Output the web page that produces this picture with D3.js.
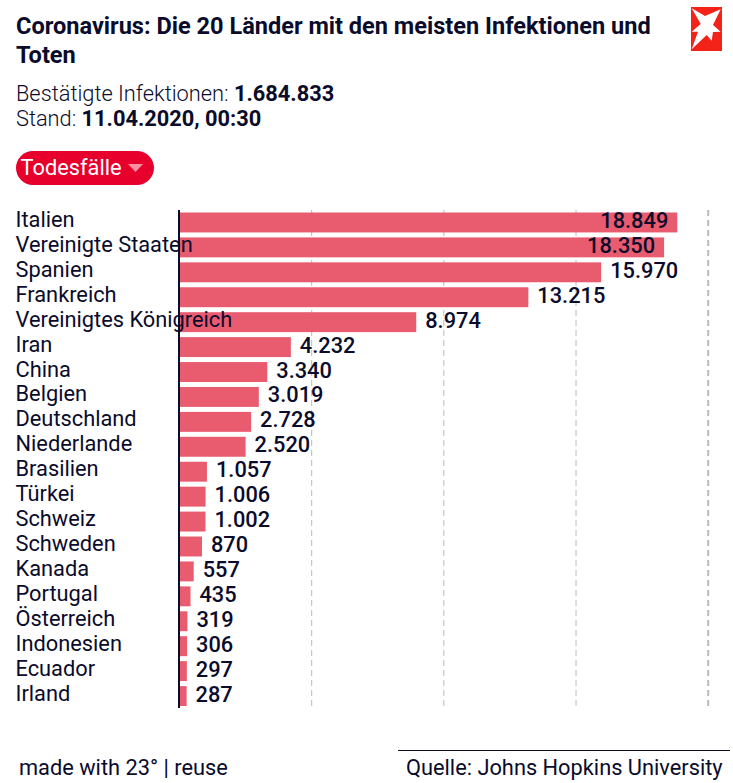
<!DOCTYPE html>
<html>
<head>
<meta charset="utf-8">
<script src="https://cdn.jsdelivr.net/npm/d3@7"></script>
<style>
html, body { margin: 0; padding: 0; background: #fff; }
svg { display: block; font-family: Roboto, sans-serif; }
text { fill: #0b0b2b; }
</style>
</head>
<body>
<div id="chart"></div>
<script>
const countries = ['Italien', 'Vereinigte Staaten', 'Spanien', 'Frankreich', 'Vereinigtes Königreich', 'Iran', 'China', 'Belgien', 'Deutschland', 'Niederlande', 'Brasilien', 'Türkei', 'Schweiz', 'Schweden', 'Kanada', 'Portugal', 'Österreich', 'Indonesien', 'Ecuador', 'Irland']
const deaths = [18849, 18350, 15970, 13215, 8974, 4232, 3340, 3019, 2728, 2520, 1057, 1006, 1002, 870, 557, 435, 319, 306, 297, 287]
const gridTicks = [5000, 10000, 15000, 20000]

const svg = d3.select('#chart').append('svg').attr('width', 733).attr('height', 783)

const x = d3.scaleLinear().domain([0, 20000]).range([179, 707.7])
const y = d3.scaleBand().domain(countries).range([210, 708.5]).paddingInner(0.2).paddingOuter(0.1)
const fmt = d3.formatLocale({decimal: ',', thousands: '.', grouping: [3], currency: ['', '€']}).format(',d')

// header
svg.append('text').attr('x', 16).attr('y', 34).style('font-size', '23.55px').style('font-weight', 700).text('Coronavirus: Die 20 Länder mit den meisten Infektionen und')
svg.append('text').attr('x', 16).attr('y', 63).style('font-size', '23.55px').style('font-weight', 700).text('Toten')

const sub1 = svg.append('text').attr('x', 16).attr('y', 101).style('font-size', '21.8px').style('font-weight', 300).text('Bestätigte Infektionen: ')
sub1.append('tspan').style('font-weight', 700).text('1.684.833')
const sub2 = svg.append('text').attr('x', 16).attr('y', 126).style('font-size', '21.8px').style('font-weight', 300).text('Stand: ')
sub2.append('tspan').style('font-weight', 700).text('11.04.2020, 00:30')

// logo
svg.append('rect').attr('x', 691).attr('y', 7).attr('width', 31).attr('height', 44).attr('fill', '#f4231a')
svg.append('path').attr('fill', '#fff')
	.attr('d', 'M691.7,8.3 L705,16 L720.7,9.3 L713,25 L720.7,31.7 L713,32 L711.7,40.7 L706.7,35 L691.7,49.3 L698,31.7 L691.7,31.7 L700.7,24 Z')

// dropdown
svg.append('rect').attr('x', 16).attr('y', 151).attr('width', 138).attr('height', 34).attr('rx', 17).attr('fill', '#e8002d')
svg.append('text').attr('x', 20.5).attr('y', 175).style('font-size', '21.8px').style('fill', '#fff').text('Todesfälle')
svg.append('path').attr('d', 'M128,164 L143,164 L135.5,172 Z').attr('fill', '#f4909f')

// grid
const grid = svg.append('g').attr('transform', 'translate(0,210)')
	.call(d3.axisBottom(x).tickValues(gridTicks).tickSize(497).tickFormat(''))
grid.select('.domain').remove()
grid.selectAll('line').attr('stroke', '#bbb').attr('stroke-dasharray', '6,4')
	.attr('stroke-width', d => d === 20000 ? 2 : 1)

// bars
svg.selectAll('.bar').data(deaths).enter().append('rect')
	.attr('class', 'bar')
	.attr('x', x(0))
	.attr('y', (d, i) => y(countries[i]))
	.attr('width', d => x(d) - x(0))
	.attr('height', y.bandwidth())
	.attr('fill', '#e95c70')

// zero line
svg.append('line').attr('x1', x(0)).attr('x2', x(0)).attr('y1', 210).attr('y2', 708)
	.attr('stroke', '#0b0b2b').attr('stroke-width', 2)

// labels
svg.selectAll('.name').data(countries).enter().append('text')
	.attr('class', 'name')
	.attr('x', 15.5)
	.attr('y', d => y(d) + y.bandwidth() / 2 + 4.5)
	.style('font-size', '21.8px')
	.text(d => d)

svg.selectAll('.val').data(deaths).enter().append('text')
	.attr('class', 'val')
	.attr('x', d => d > 16000 ? x(d) - 9 : x(d) + 9)
	.attr('text-anchor', d => d > 16000 ? 'end' : 'start')
	.attr('y', (d, i) => y(countries[i]) + y.bandwidth() / 2 + 5.5)
	.style('font-size', '21.8px')
	.style('font-weight', 500)
	.text(d => fmt(d))

// footer
svg.append('text').attr('x', 19).attr('y', 775).style('font-size', '21.8px').text('made with 23° | reuse')
svg.append('line').attr('x1', 398).attr('x2', 730).attr('y1', 750.5).attr('y2', 750.5).attr('stroke', '#0b0b2b')
svg.append('text').attr('x', 406).attr('y', 775).style('font-size', '21.8px').text('Quelle: Johns Hopkins University')
</script>
</body>
</html>
